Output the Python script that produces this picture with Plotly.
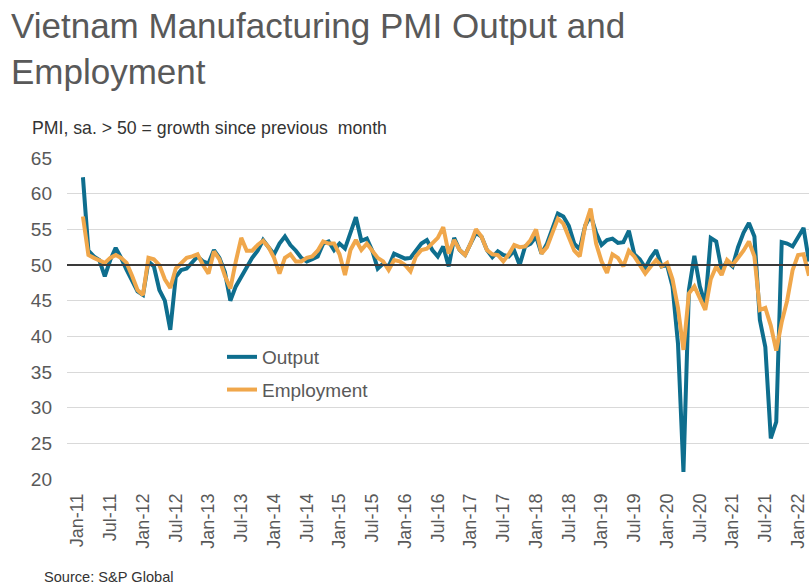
import plotly.graph_objects as go

# Monthly PMI sub-indices, Feb-2011 .. Mar-2022 (seasonally adjusted)
start_year, start_month = 2011, 2

output_2011 = [62.3, 52.0, 51.2, 50.7, 48.4, 50.7, 52.4, 51.0, 49.3, 47.8, 46.3]
output_2012 = [45.8, 50.5, 49.8, 46.5, 45.0, 40.9, 48.3, 49.3, 49.5, 50.3, 51.2, 50.5]
output_2013 = [50.2, 52.1, 51.0, 49.0, 45.0, 47.0, 48.3, 49.5, 51.0, 52.0, 53.5, 52.5]
output_2014 = [51.5, 53.0, 54.0, 52.8, 52.0, 51.0, 50.5, 50.8, 51.2, 53.0, 53.3, 52.1]
output_2015 = [53.0, 52.3, 54.7, 56.7, 53.4, 53.7, 52.0, 49.5, 50.2, 49.8, 51.6, 51.3]
output_2016 = [50.9, 51.0, 52.1, 53.0, 53.5, 52.1, 51.2, 52.6, 49.8, 53.8, 52.1, 51.4]
output_2017 = [53.0, 54.5, 54.0, 52.1, 51.1, 51.9, 51.4, 51.2, 52.0, 50.0, 52.6, 53.0]
output_2018 = [54.0, 51.6, 53.0, 55.0, 57.2, 56.8, 55.5, 53.0, 52.2, 55.5, 57.0, 54.5]
output_2019 = [52.8, 53.5, 53.7, 53.1, 53.2, 54.8, 51.5, 50.8, 49.6, 51.0, 52.1, 49.8]
output_2020 = [50.0, 47.0, 39.0, 21.0, 46.5, 51.3, 47.0, 44.5, 53.8, 53.3, 49.3, 50.5]
output_2021 = [49.8, 52.5, 54.5, 55.9, 54.0, 42.3, 38.5, 25.7, 28.0, 53.2, 53.0, 52.6]
output_2022 = [53.8, 55.2, 50.5]

employment_2011 = [56.8, 51.4, 51.0, 50.7, 50.3, 51.0, 51.4, 51.0, 50.3, 48.5, 46.5]
employment_2012 = [45.8, 51.0, 50.8, 50.0, 48.0, 46.8, 49.5, 50.3, 51.0, 51.2, 51.5, 50.0]
employment_2013 = [48.8, 51.9, 50.8, 48.5, 46.7, 50.5, 53.8, 52.0, 52.0, 52.8, 53.4, 52.5]
employment_2014 = [51.0, 48.8, 51.0, 51.5, 50.5, 50.5, 51.0, 51.2, 52.0, 53.3, 53.0, 53.0]
employment_2015 = [51.5, 48.6, 52.1, 53.5, 52.1, 53.0, 52.1, 51.0, 50.5, 49.3, 50.7, 50.5]
employment_2016 = [50.0, 49.1, 51.2, 52.1, 52.3, 53.0, 53.8, 55.3, 51.6, 53.5, 52.1, 51.4]
employment_2017 = [53.0, 55.0, 54.0, 52.1, 51.5, 51.4, 50.5, 51.5, 52.8, 52.5, 52.6, 53.5]
employment_2018 = [55.0, 51.6, 52.5, 54.5, 56.5, 55.8, 54.0, 52.0, 51.2, 55.5, 57.9, 53.0]
employment_2019 = [50.5, 48.9, 51.5, 51.0, 49.8, 52.0, 51.2, 50.0, 48.8, 49.8, 50.7, 49.8]
employment_2020 = [50.3, 48.0, 44.0, 38.1, 46.0, 47.0, 45.5, 43.7, 48.0, 49.8, 48.6, 50.7]
employment_2021 = [50.0, 51.0, 52.0, 53.3, 51.2, 43.7, 44.0, 41.5, 38.0, 42.0, 45.0, 49.3]
employment_2022 = [51.4, 51.5, 48.5]

tick_labels = ["Jan-11", "Jul-11", "Jan-12", "Jul-12", "Jan-13", "Jul-13",
               "Jan-14", "Jul-14", "Jan-15", "Jul-15", "Jan-16", "Jul-16",
               "Jan-17", "Jul-17", "Jan-18", "Jul-18", "Jan-19", "Jul-19",
               "Jan-20", "Jul-20", "Jan-21", "Jul-21", "Jan-22"]
y_ticks = [20, 25, 30, 35, 40, 45, 50, 55, 60, 65]

output = (output_2011 + output_2012 + output_2013 + output_2014 + output_2015
          + output_2016 + output_2017 + output_2018 + output_2019 + output_2020
          + output_2021 + output_2022)
employment = (employment_2011 + employment_2012 + employment_2013 + employment_2014
              + employment_2015 + employment_2016 + employment_2017 + employment_2018
              + employment_2019 + employment_2020 + employment_2021 + employment_2022)

# x position = months elapsed since Jan-2011
first = start_month - 1
months = list(range(first, first + len(output)))
tick_pos = [6 * k for k in range(len(tick_labels))]

TEAL = "#0e6e8e"
ORANGE = "#f0a74b"
FONT = "Liberation Sans, Arial, sans-serif"
GREY = "#595959"

# plot area in pixels (used to place the text blocks around it)
PL, PR, PT, PB = 67, 809, 158, 479


def px_x(x):
    return (x - PL) / (PR - PL)


def px_y(y):
    return (PB - y) / (PB - PT)


fig = go.Figure()
fig.add_trace(go.Scatter(x=months, y=output, mode="lines", name="Output",
                         legendgroup="a",
                         line=dict(color=TEAL, width=4)))
fig.add_trace(go.Scatter(x=months, y=employment, mode="lines", name="Employment",
                         legendgroup="b",
                         line=dict(color=ORANGE, width=4)))

# 50 = no-change threshold
fig.add_shape(type="line", xref="paper", yref="y", x0=0, x1=1, y0=50, y1=50,
              line=dict(color="#3a3a3a", width=1.8), layer="above")

fig.update_layout(
    width=809, height=587, autosize=False,
    margin=dict(l=PL, r=809 - PR, t=PT, b=587 - PB),
    paper_bgcolor="white", plot_bgcolor="white",
    font=dict(family=FONT, color=GREY),
    showlegend=True,
    legend=dict(x=px_x(222), y=px_y(338), xanchor="left", yanchor="top",
                bgcolor="rgba(0,0,0,0)", font=dict(size=19, color=GREY, family=FONT),
                traceorder="grouped", tracegroupgap=5),
    xaxis=dict(range=[-1.92, 134.0], tickmode="array", tickvals=tick_pos,
               ticktext=tick_labels, tickangle=-90, showgrid=False,
               zeroline=False, showline=False, ticks="",
               tickfont=dict(size=18, color=GREY), ticklabelstandoff=10),
    yaxis=dict(range=[20, 65], tickmode="array", tickvals=y_ticks,
               showgrid=True, gridcolor="#d9d9d9", gridwidth=1, zeroline=False,
               showline=False, ticks="", tickfont=dict(size=19, color=GREY),
               ticklabelstandoff=14),
    annotations=[
        dict(text="Vietnam Manufacturing PMI Output and<br>Employment",
             xref="paper", yref="paper", x=px_x(9), y=px_y(4),
             xanchor="left", yanchor="top", align="left", showarrow=False,
             font=dict(size=35, color=GREY, family=FONT)),
        dict(text="PMI, sa. > 50 = growth since previous  month", xref="paper", yref="paper",
             x=px_x(30), y=px_y(128), xanchor="left", yanchor="middle",
             showarrow=False, font=dict(size=17.7, color="#333333", family=FONT)),
        dict(text="Source: S&P Global", xref="paper", yref="paper",
             x=px_x(42), y=px_y(577), xanchor="left", yanchor="middle",
             showarrow=False, font=dict(size=14.6, color="#333333", family=FONT)),
    ],
)

fig.write_html("out.html")
